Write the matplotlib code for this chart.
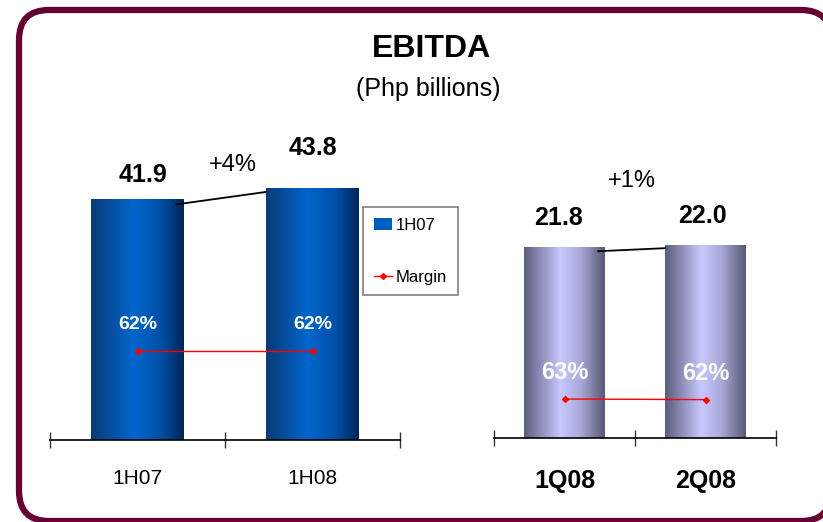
import numpy as np
import matplotlib
matplotlib.use('Agg')
import matplotlib.pyplot as plt
from matplotlib.patches import FancyBboxPatch, Patch
from matplotlib.lines import Line2D
from matplotlib.colors import to_rgb
from matplotlib.transforms import Affine2D

plt.rcParams['font.family'] = ['Liberation Sans', 'DejaVu Sans']
NARROW = ['Liberation Sans Narrow', 'Liberation Sans', 'DejaVu Sans']

# data
half_labels = ['1H07', '1H08']
half_ebitda = [41.9, 43.8]
half_margin = [62, 62]
half_growth = '+4%'

qtr_labels = ['1Q08', '2Q08']
qtr_ebitda = [21.8, 22.0]
qtr_margin = [63, 62]
qtr_growth = '+1%'

W, H = 823, 522
fig = plt.figure(figsize=(W / 100, H / 100), dpi=100)
px = Affine2D().scale(1 / W, 1 / H) + fig.transFigure

# rounded maroon frame (filled white so the renderer does not clip the curves)
frame = FancyBboxPatch((19, 1), 812, 511, boxstyle='round,pad=0,rounding_size=30',
                       transform=px, facecolor='white', edgecolor='#660033',
                       linewidth=4.5, clip_on=False, zorder=-5)
fig.patches.append(frame)

fig.text(432 / W, 1 - 49 / H, 'EBITDA', ha='center', va='center',
         fontsize=23, fontweight='bold')
fig.text(428 / W, 1 - 89 / H, '(Php billions)', ha='center', va='center', fontsize=18)


def gradient(stops, n=200):
    pos = [s[0] for s in stops]
    cols = np.array([to_rgb(s[1]) for s in stops])
    t = np.linspace(0, 1, n)
    rgb = np.stack([np.interp(t, pos, cols[:, k]) for k in range(3)], axis=-1)
    return rgb[np.newaxis, :, :]


blue_grad = gradient([(0, '#0b3a78'), (0.45, '#0066cc'), (0.75, '#0050a8'), (1, '#002656')])
lav_grad = gradient([(0, '#5c5c7c'), (0.45, '#c8c8ff'), (0.7, '#a8a8d8'), (1, '#585876')])


def panel(rect, labels, values, margins, growth, grad, ymax, mmax, bw,
          val_off, marg_font, tick_font, tick_pad, growth_off):
    ax = fig.add_axes(rect)
    ax.patch.set_alpha(0)
    x = np.arange(len(values))
    bars = ax.bar(x, values, width=bw, color='none', edgecolor='none')
    for b in bars:
        x0, y0 = b.get_x(), b.get_y()
        ax.imshow(grad, extent=(x0, x0 + b.get_width(), y0, y0 + b.get_height()),
                  aspect='auto', zorder=2, interpolation='bilinear')
    ax.set_xlim(-0.5, len(values) - 0.5)
    ax.set_ylim(0, ymax)
    for s in ['top', 'right', 'left']:
        ax.spines[s].set_visible(False)
    ax.spines['bottom'].set_linewidth(1.2)
    ax.spines['bottom'].set_zorder(5)
    ax.set_yticks([])
    ax.set_xticks(x)
    ax.set_xticklabels(labels, **tick_font)
    ax.set_xticks(np.arange(len(values) + 1) - 0.5, minor=True)
    ax.tick_params(axis='x', which='major', length=0, pad=tick_pad)
    ax.tick_params(axis='x', which='minor', length=12, direction='inout', width=1,
                   color='#333333')

    for i, v in enumerate(values):
        ax.annotate('%.1f' % v, (i, v), xytext=val_off[i], textcoords='offset points',
                    ha='center', va='center', fontsize=18, fontweight='bold')
    # connector between bar tops
    ax.plot([x[0] + bw * 0.42, x[1] - bw * 0.5], [values[0] * 0.978, values[1] * 0.985],
            color='black', lw=1.3, zorder=3)
    ax.annotate(growth, (0.5, max(values)), xytext=growth_off, textcoords='offset points',
                ha='center', va='center', fontsize=17)

    ax2 = ax.twinx()
    ax2.set_ylim(0, mmax)
    ax2.axis('off')
    ax2.plot(x, margins, color='#ff0000', lw=1, marker='D', markersize=3, zorder=4)
    for i, m in enumerate(margins):
        ax2.annotate('%d%%' % m, (i, m), xytext=(0, 19), textcoords='offset points',
                     ha='center', va='center', color='white', fontweight='bold',
                     **marg_font)
    return ax


ax_l = panel([50 / W, 82 / H, 350 / W, 330 / H], half_labels, half_ebitda, half_margin,
             half_growth, blue_grad, 330 / 5.75, 62 * 330 / 89, 0.53,
             [(4, 17), (0, 29)], dict(fontsize=14, family=NARROW),
             dict(fontsize=15, family=NARROW), 21, (6, 17))
ax_r = panel([494 / W, 84 / H, 282 / W, 330 / H], qtr_labels, qtr_ebitda, qtr_margin,
             qtr_growth, lav_grad, 330 / 8.76, 63 * 330 / 39, 0.57,
             [(-4, 21), (-2, 21)], dict(fontsize=17),
             dict(fontsize=18, fontweight='bold'), 22, (-2, 46))

handles = [Patch(facecolor='#0060c0', edgecolor='none'),
           Line2D([], [], color='#ff0000', lw=1, marker='D', markersize=3)]
leg = fig.legend(handles, ['1H07', 'Margin'], loc='upper left',
                 bbox_to_anchor=(363 / W, 1 - 207 / H), fancybox=False,
                 edgecolor='#808080', framealpha=1, labelspacing=2.2,
                 handlelength=1.1, handletextpad=0.2, borderpad=0.65,
                 borderaxespad=0, prop=dict(family=NARROW, size=12))
leg.get_frame().set_linewidth(1.2)

fig.savefig('out.png', dpi=100)
